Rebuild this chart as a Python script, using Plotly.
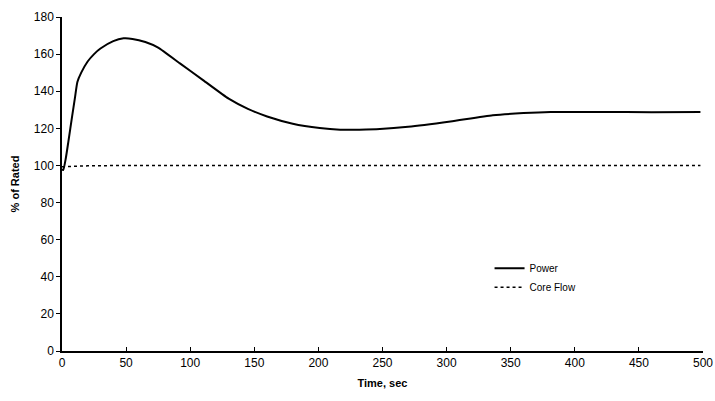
import plotly.graph_objects as go

time_power = [0, 1, 3, 5, 8, 10, 12, 15, 20, 25, 30, 40, 48, 55, 65, 75, 92, 110, 130, 145, 160, 180, 201, 217, 232, 248, 270, 303, 336, 360, 381, 420, 460, 498]
power = [98, 97.5, 104, 113, 127, 136, 145, 150, 156, 160, 163, 167, 168.5, 168.2, 166.5, 163.5, 155, 146, 136, 130.5, 126.4, 122.5, 120.2, 119.3, 119.3, 119.6, 120.8, 123.7, 127.0, 128.2, 128.8, 128.8, 128.7, 128.8]

time_flow = [0, 5, 20, 50, 100, 200, 300, 400, 498]
core_flow = [99.3, 99.5, 99.8, 100, 100, 100, 100, 100, 100]

x_ticks = [0, 50, 100, 150, 200, 250, 300, 350, 400, 450, 500]
y_ticks = [0, 20, 40, 60, 80, 100, 120, 140, 160, 180]

font_family = "Liberation Sans, Arial, sans-serif"

fig = go.Figure()
fig.add_trace(go.Scatter(x=time_power, y=power, mode="lines", name="Power",
                         line=dict(color="black", width=2, shape="spline", smoothing=0.5)))
fig.add_trace(go.Scatter(x=time_flow, y=core_flow, mode="lines", name="Core Flow",
                         line=dict(color="black", width=1.5, dash="dot")))

fig.update_layout(
    width=715, height=401,
    margin=dict(l=62, r=12, t=17, b=50, autoexpand=False),
    paper_bgcolor="white", plot_bgcolor="white",
    font=dict(family=font_family, size=12, color="black"),
    showlegend=True,
    legend=dict(x=0.667, y=0.291, xanchor="left", yanchor="top",
                bgcolor="rgba(0,0,0,0)", font=dict(size=10),
                tracegroupgap=0),
    xaxis=dict(range=[0, 500], tickvals=x_ticks, ticks="inside", ticklen=4,
               tickcolor="black", showline=True, linecolor="black", linewidth=1.5,
               showgrid=False, zeroline=False, mirror=False, automargin=False,
               ticklabeloverflow="allow",
               title=dict(text="<b>Time, sec</b>", font=dict(size=11), standoff=10)),
    yaxis=dict(range=[0, 180], tickvals=y_ticks, ticks="outside", ticklen=4,
               tickcolor="black", showline=True, linecolor="black", linewidth=1.5,
               showgrid=False, zeroline=False, automargin=False,
               title=dict(text="<b>% of Rated</b>", font=dict(size=11), standoff=12)),
)

fig.write_html("out.html",
               config={"displayModeBar": False},
               post_script="document.body.style.margin='0';document.body.style.overflow='hidden';")
